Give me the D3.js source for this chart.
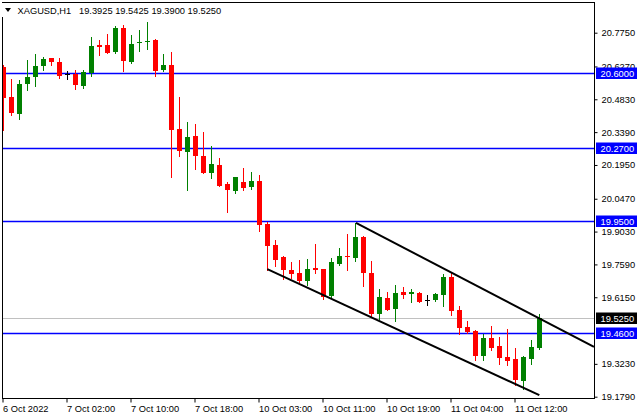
<!DOCTYPE html>
<html><head><meta charset="utf-8">
<script src="https://cdn.jsdelivr.net/npm/d3@7"></script>
<style>
body{margin:0;background:#fff}
svg{display:block}
text{font-family:"Liberation Sans",Arial,sans-serif;font-size:9.3px}
</style>
</head><body>
<svg id="chart" width="640" height="420"></svg>
<script>
// ---- data ----
const symbol = "XAGUSD,H1";
const ohlcHeader = "19.3925 19.5425 19.3900 19.5250";
const opens  = [20.625,20.491,20.420,20.551,20.579,20.630,20.665,20.648,20.595,20.595,20.543,20.600,20.722,20.722,20.692,20.797,20.648,20.728,20.736,20.744,20.613,20.635,20.354,20.250,20.323,20.233,20.162,20.196,20.113,20.079,20.122,20.097,20.126,19.938,19.845,19.790,19.736,19.723,19.688,19.745,19.740,19.619,19.762,19.797,19.788,19.881,19.723,19.543,19.613,19.565,19.639,19.631,19.635,19.604,19.604,19.626,19.705,19.560,19.486,19.468,19.359,19.438,19.403,19.354,19.346,19.249,19.346,19.3925];
const highs  = [20.634,20.573,20.566,20.657,20.683,20.667,20.665,20.665,20.608,20.613,20.613,20.757,20.744,20.771,20.806,20.810,20.766,20.788,20.823,20.749,20.683,20.692,20.494,20.385,20.376,20.341,20.279,20.227,20.122,20.144,20.183,20.166,20.149,19.943,19.867,19.794,19.771,19.780,19.784,19.850,19.740,19.788,19.832,19.894,19.942,19.885,19.775,19.653,19.639,19.670,19.661,19.653,19.639,19.626,19.635,19.718,19.723,19.578,19.512,19.473,19.455,19.490,19.442,19.477,19.394,19.359,19.429,19.5425];
const lows   = [20.349,20.415,20.398,20.524,20.540,20.613,20.635,20.578,20.573,20.530,20.534,20.587,20.679,20.687,20.687,20.608,20.643,20.696,20.705,20.587,20.608,20.141,20.233,20.087,20.176,20.158,20.136,20.105,19.991,20.070,20.084,20.088,19.904,19.736,19.753,19.696,19.701,19.683,19.670,19.723,19.606,19.614,19.758,19.736,19.775,19.666,19.534,19.521,19.560,19.512,19.613,19.596,19.596,19.582,19.600,19.578,19.539,19.455,19.460,19.341,19.341,19.385,19.324,19.319,19.232,19.214,19.324,19.3900];
const closes = [20.490,20.423,20.551,20.582,20.630,20.661,20.648,20.586,20.595,20.547,20.604,20.718,20.714,20.687,20.797,20.652,20.727,20.736,20.740,20.608,20.635,20.347,20.255,20.319,20.233,20.162,20.201,20.105,20.084,20.144,20.092,20.126,19.930,19.838,19.780,19.736,19.718,19.688,19.740,19.736,19.614,19.771,19.797,19.793,19.881,19.723,19.543,19.617,19.560,19.635,19.626,19.639,19.596,19.604,19.631,19.705,19.556,19.482,19.464,19.359,19.438,19.394,19.350,19.337,19.254,19.354,19.398,19.5250];
const xTickBars   = [0, 8, 16, 24, 32, 40, 48, 56, 64];
const xTickLabels = ["6 Oct 2022","7 Oct 02:00","7 Oct 10:00","7 Oct 18:00","10 Oct 03:00","10 Oct 11:00","10 Oct 19:00","11 Oct 04:00","11 Oct 12:00"];
const yTicks = [20.7750,20.6270,20.4830,20.3390,20.1950,20.0470,19.9030,19.7590,19.6150,19.3230,19.1790];
const levels = [20.6000, 20.2700, 19.9500, 19.4600];
const lastPrice = 19.5250;
const upperChannel = [[44.06, 19.941], [73.81, 19.398]];
const lowerChannel = [[32.98, 19.738], [66.98, 19.186]];

// ---- layout ----
const svg = d3.select("#chart");
const L = 2.5, T = 2.5, R = 594.5, B = 398.5;
const x = d3.scaleLinear().domain([0, 67]).range([3.5, 539.5]);
const y = d3.scaleLinear().domain([19.179, 20.775]).range([396.7, 32.7]);
const GREEN = "#008000", RED = "#ff0000";

svg.append("defs").append("clipPath").attr("id","plot")
  .append("rect").attr("x",3).attr("y",3).attr("width",591).attr("height",395);

const plot = svg.append("g").attr("clip-path","url(#plot)");

// price levels
const py = v => Math.round(y(v)) + 0.5;
plot.append("line").attr("x1",3).attr("x2",594).attr("y1",py(lastPrice)).attr("y2",py(lastPrice))
  .attr("stroke","#c0c0c0").attr("stroke-width",1);
plot.selectAll("line.level").data(levels).join("line").attr("class","level")
  .attr("x1",3).attr("x2",594).attr("y1",d=>py(d)).attr("y2",d=>py(d))
  .attr("stroke","#0000ff").attr("stroke-width",1.3);

// candles
const idx = d3.range(opens.length);
const colorOf = i => closes[i] > opens[i] ? GREEN : (closes[i] < opens[i] ? RED : "#000");
const cg = plot.append("g");
cg.selectAll("line.wick").data(idx).join("line").attr("class","wick")
  .attr("x1",i=>x(i)).attr("x2",i=>x(i))
  .attr("y1",i=>Math.round(y(highs[i]))).attr("y2",i=>Math.round(y(lows[i]))+1)
  .attr("stroke",colorOf).attr("stroke-width",1).attr("shape-rendering","crispEdges");
cg.selectAll("rect.body").data(idx).join("rect").attr("class","body")
  .attr("x",i=>x(i)-2.5).attr("width",5)
  .attr("y",i=>Math.round(y(Math.max(opens[i],closes[i]))))
  .attr("height",i=>Math.max(1, Math.round(y(Math.min(opens[i],closes[i]))) - Math.round(y(Math.max(opens[i],closes[i])))))
  .attr("fill",colorOf).attr("shape-rendering","crispEdges");

// channel lines
const line = d3.line().x(d=>x(d[0])).y(d=>y(d[1]));
[upperChannel, lowerChannel].forEach(c=>{
  plot.append("path").attr("d",line(c)).attr("fill","none").attr("stroke","#000").attr("stroke-width",2);
});

// frame
svg.append("rect").attr("x",L).attr("y",T).attr("width",R-L).attr("height",B-T)
  .attr("fill","none").attr("stroke","#000").attr("stroke-width",1).attr("shape-rendering","crispEdges");

// y axis
const yAxis = d3.axisRight(y).tickValues(yTicks).tickSize(3).tickPadding(4).tickFormat(d3.format(".4f"));
const ya = svg.append("g").attr("transform","translate(594.5,0)").call(yAxis);
ya.select(".domain").remove();
ya.selectAll("text").attr("fill","#000").style("font-family","'Liberation Sans',Arial,sans-serif").style("font-size","9.3px");
ya.selectAll("line").attr("stroke","#000");

// x axis
const xAxis = d3.axisBottom(x).tickValues(xTickBars).tickSize(4).tickPadding(3)
  .tickFormat((d,i)=>xTickLabels[i]);
const xa = svg.append("g").attr("transform","translate(-1,398.5)").call(xAxis);
xa.select(".domain").remove();
xa.selectAll("text").attr("text-anchor","start").attr("x",0).attr("fill","#000")
  .style("font-family","'Liberation Sans',Arial,sans-serif").style("font-size","9.3px");
xa.selectAll("line").attr("stroke","#000");

// level tags on axis
const tags = levels.map(v=>({v, fill:"#0000ff"})).concat([{v:lastPrice, fill:"#000"}]);
const tg = svg.append("g").selectAll("g").data(tags).join("g")
  .attr("transform",d=>`translate(596,${Math.round(y(d.v))})`);
tg.append("rect").attr("x",0).attr("y",-5.5).attr("width",41).attr("height",11.5).attr("fill",d=>d.fill);
tg.append("text").attr("x",4.5).attr("y",3.6).attr("fill","#fff").text(d=>d3.format(".4f")(d.v));

// title
svg.append("rect").attr("x",0).attr("y",3).attr("width",4).attr("height",14).attr("fill","#fff");
svg.append("path").attr("d","M5,8 L11,8 L8,12 Z").attr("fill","#000");
svg.append("text").attr("x",17.5).attr("y",14).attr("fill","#000").text(symbol);
svg.append("text").attr("x",79).attr("y",14).attr("fill","#000").text(ohlcHeader);
</script>
</body></html>
